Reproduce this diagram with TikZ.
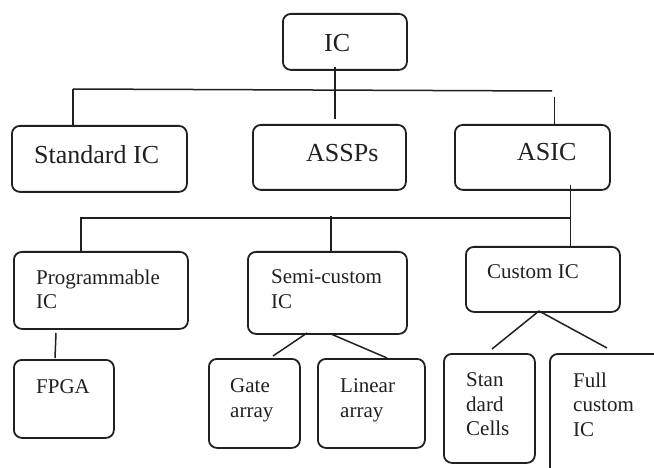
\documentclass[tikz,border=0pt]{standalone}
\usepackage{fontspec}
\setmainfont{Liberation Serif}
\definecolor{ink}{RGB}{35,31,32}
\begin{document}
\begin{tikzpicture}[x=1pt,y=-1pt,
  box/.style={draw=ink, line width=1.8pt, rounded corners=8pt, rectangle,
              inner sep=0pt, anchor=north west},
  conn/.style={draw=ink, line width=1.5pt},
  big/.style={text=ink, inner sep=0pt, font=\fontsize{26}{30}\selectfont},
  small/.style={text=ink, inner sep=0pt, align=left,
                font=\fontsize{21}{24.5}\selectfont}]
\useasboundingbox (0,0) rectangle (654,468);
\clip (0,0) rectangle (654,468);

% boxes of the three levels
\node[box, minimum width=124pt, minimum height=56pt] (ic)     at (282,13)  {};
\node[box, minimum width=175pt, minimum height=66pt] (stdic)  at (11,125)  {};
\node[box, minimum width=153pt, minimum height=65pt] (assps)  at (252,124) {};
\node[box, minimum width=155pt, minimum height=65pt] (asic)   at (454,124) {};
\node[box, minimum width=174pt, minimum height=77pt] (prog)   at (13,251)  {};
\node[box, minimum width=159pt, minimum height=82pt] (semi)   at (247,251) {};
\node[box, minimum width=154pt, minimum height=65pt] (custom) at (465,246) {};
\node[box, minimum width=100pt, minimum height=78pt] (fpga)   at (13,359)  {};
\node[box, minimum width=91pt,  minimum height=89pt] (gate)   at (208,358) {};
\node[box, minimum width=107pt, minimum height=89pt] (linear) at (317,358) {};
\node[box, minimum width=91pt,  minimum height=109pt] (cells) at (443,353) {};
\node[box, minimum width=125pt, minimum height=140pt] (full)  at (549,353) {};

% labels
\node[big, anchor=base west] (t-ic)    at (324,52)  {IC};
\node[big, anchor=base west] (t-stdic) at (34,164)  {Standard IC};
\node[big, anchor=base west] (t-assps) at (306,162) {ASSPs};
\node[big, anchor=base west] (t-asic)  at (517,161) {ASIC};
\node[small, anchor=north west] (t-prog)   at (36,269.7)  {Programmable\\IC};
\node[small, anchor=north west] (t-semi)   at (271,269.7) {Semi-custom\\IC};
\node[small, anchor=base west]  (t-custom) at (487,279)   {Custom IC};
\node[small, anchor=base west]  (t-fpga)   at (36,393)    {FPGA};
\node[small, anchor=north west] (t-gate)   at (230,378.7) {Gate\\array};
\node[small, anchor=north west] (t-linear) at (340,378.7) {Linear\\array};
\node[small, anchor=north west] (t-cells)  at (466,372.7) {Stan\\dard\\Cells};
\node[small, anchor=north west] (t-full)   at (573,372.7) {Full\\custom\\IC};

% connector end points
\coordinate (icdown)  at (335,67);
\coordinate (icend)   at (335,119);
\coordinate (busAL)   at (73,89);
\coordinate (busAR)   at (552,91);
\coordinate (asictop) at (554.5,97);
\coordinate (asicbot) at (570.5,185);
\coordinate (busBL)   at (80,218);
\coordinate (busBR)   at (571,218);
\coordinate (progup)  at (81,218);
\coordinate (semiup)  at (331,216);
\coordinate (progbot) at (56,333);
\coordinate (fpgatop) at (55,358);
\coordinate (semiL)   at (307,333);
\coordinate (gatetop) at (273,356);
\coordinate (semiR)   at (331,334);
\coordinate (lintop)  at (387,358);
\coordinate (apex)    at (539,311);
\coordinate (cellstop) at (492,349);
\coordinate (fulltop) at (607,348);

% first level
\draw[conn] (icdown) -- (icend);
\draw[conn] (busAL) -- (busAR);
\draw[conn] (busAL) -- (busAL |- stdic.north);
\draw[conn] (asictop) -- (asictop |- asic.north);
% second level
\draw[conn] (asicbot) -- (asicbot |- custom.north);
\draw[conn] (busBL) -- (busBR);
\draw[conn] (progup) -- (progup |- prog.north);
\draw[conn] (semiup) -- (semiup |- semi.north);
% third level
\draw[conn] (progbot) -- (fpgatop);
\draw[conn] (semiL) -- (gatetop);
\draw[conn] (semiR) -- (lintop);
\draw[conn] (apex) -- (cellstop);
\draw[conn] (apex) -- (fulltop);
\end{tikzpicture}
\end{document}
